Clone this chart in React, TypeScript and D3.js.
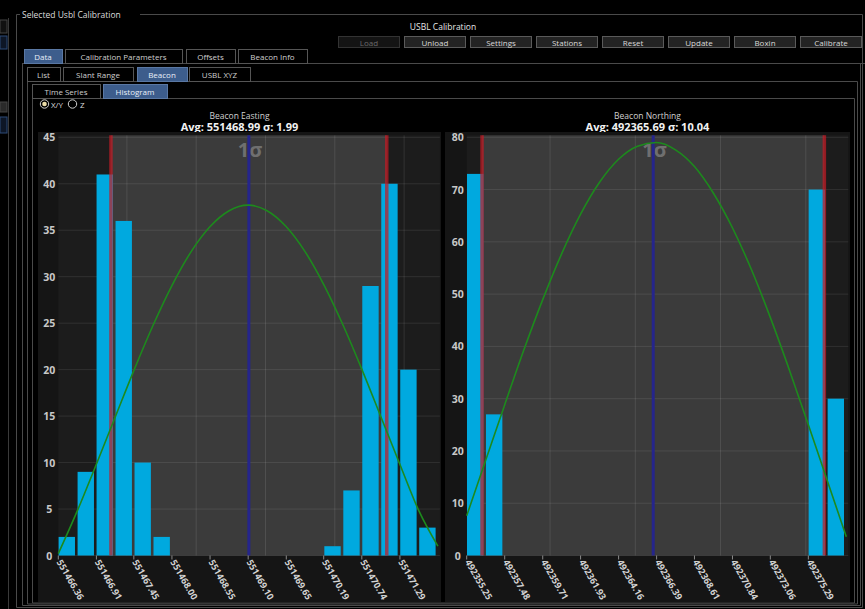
import React from 'react';
import * as d3 from 'd3';

// Histogram bin counts (20 bins each)
const eastingCounts = [2, 9, 41, 36, 10, 2, 0, 0, 0, 0, 0, 0, 0, 0, 1, 7, 29, 40, 20, 3];
const northingCounts = [73, 27, 0, 0, 0, 0, 0, 0, 0, 0, 0, 0, 0, 0, 0, 0, 0, 0, 70, 30];

// Bin layout
const eastingBinStart = 551466.36;
const eastingBinWidth = 0.27389;
const northingBinStart = 492355.25;
const northingBinWidth = 1.11333;

// Axis tick labels (every second bin edge)
const eastingTickLabels = [
  '551466.36', '551466.91', '551467.45', '551468.00', '551468.55',
  '551469.10', '551469.65', '551470.19', '551470.74', '551471.29',
];
const northingTickLabels = [
  '492355.25', '492357.48', '492359.71', '492361.93', '492364.16',
  '492366.39', '492368.61', '492370.84', '492373.06', '492375.29',
];

// Normal fit curve, sampled at the 21 bin edges
const eastingFit = [0.2, 4.8, 9.8, 14.9, 20.0, 24.8, 29.1, 32.7, 35.4, 37.1, 37.7, 37.1, 35.4, 32.7, 29.1, 24.8, 20.0, 14.9, 9.8, 4.8, 1.0];
const northingFit = [7.6, 18.2, 28.8, 39.2, 48.9, 57.7, 65.3, 71.4, 75.8, 78.3, 79.0, 77.6, 74.4, 69.3, 62.7, 54.7, 45.5, 35.5, 25.0, 14.3, 3.6];

// Vertical grid positions
const eastingGrid = [551467.35, 551468.35, 551469.35, 551470.35, 551471.35];
const northingGrid = [492360.14, 492365.14, 492370.14, 492375.14];

// Count axis ticks
const eastingYTicks = [0, 5, 10, 15, 20, 25, 30, 35, 40, 45];
const northingYTicks = [0, 10, 20, 30, 40, 50, 60, 70, 80];

// Statistics
const eastingAvg = 551468.99;
const eastingSigma = 1.99;
const eastingCentre = 551469.11;
const northingAvg = 492365.69;
const northingSigma = 10.04;
const northingCentre = 492366.19;

// UI labels
const buttonLabels = ['Load', 'Unload', 'Settings', 'Stations', 'Reset', 'Update', 'Boxin', 'Calibrate'];
const mainTabs = ['Data', 'Calibration Parameters', 'Offsets', 'Beacon Info'];
const dataTabs = ['List', 'Slant Range', 'Beacon', 'USBL XYZ'];
const viewTabs = ['Time Series', 'Histogram'];

const W = 865;
const H = 609;
const FONT = "'Open Sans', 'Noto Sans', sans-serif";
const PLOT_TOP = 137.3;
const PLOT_BOTTOM = 555.5;
const PLOT_W = 379.6;

type PanelProps = {
  panelX: number;
  panelW: number;
  plotLeft: number;
  title: string;
  avg: number;
  sigma: number;
  centre: number;
  counts: number[];
  binStart: number;
  binWidth: number;
  tickLabels: string[];
  fit: number[];
  grid: number[];
  yTicks: number[];
};

function HistogramPanel(p: PanelProps) {
  const nBins = p.counts.length;
  const x = d3
    .scaleLinear()
    .domain([p.binStart, p.binStart + nBins * p.binWidth])
    .range([p.plotLeft, p.plotLeft + PLOT_W]);
  const yMax = p.yTicks[p.yTicks.length - 1];
  const y = d3.scaleLinear().domain([0, yMax]).range([PLOT_BOTTOM, PLOT_TOP]);
  const edges = d3.range(nBins + 1).map((k) => p.binStart + k * p.binWidth);
  const line = d3
    .line<number>()
    .x((_, i) => x(edges[i]))
    .y((v) => y(v))
    .curve(d3.curveMonotoneX);
  const bgRight = p.plotLeft + PLOT_W + 2;
  const bandL = x(p.centre - p.sigma);
  const bandR = x(p.centre + p.sigma);
  const cx = p.panelX + p.panelW / 2;
  return (
    <g>
      <text x={cx} y={115} textAnchor="middle" dominantBaseline="central" fill="#d0d0d0" fontSize={8.5} fontFamily={FONT}>
        {p.title}
      </text>
      <text x={cx} y={126.5} textAnchor="middle" dominantBaseline="central" fill="#f2f2f2" fontSize={11} fontWeight={700} fontFamily={FONT}>
        {`Avg: ${p.avg.toFixed(2)} σ: ${p.sigma.toFixed(2)}`}
      </text>
      <rect x={p.panelX} y={132} width={p.panelW} height={470} fill="#151515" />
      <rect x={p.plotLeft} y={PLOT_TOP - 2} width={bgRight - p.plotLeft} height={PLOT_BOTTOM - PLOT_TOP + 2} fill="#1c1c1c" />
      <rect x={bandL} y={PLOT_TOP - 2} width={bandR - bandL} height={PLOT_BOTTOM - PLOT_TOP + 2} fill="#3b3b3b" />
      {p.yTicks.map((t) => (
        <line key={'h' + t} x1={p.plotLeft} x2={bgRight} y1={y(t)} y2={y(t)} stroke="#ffffff" strokeOpacity={0.09} strokeWidth={1} />
      ))}
      {p.grid.map((g) => (
        <line key={'v' + g} x1={x(g)} x2={x(g)} y1={PLOT_TOP - 2} y2={PLOT_BOTTOM} stroke="#ffffff" strokeOpacity={0.1} strokeWidth={1} />
      ))}
      <text x={x(p.centre) - 11} y={157} fill="#6f6f6f" fontSize={20} fontWeight={700} fontFamily={FONT}>
        1σ
      </text>
      {p.counts.map((c, i) =>
        c > 0 ? (
          <rect
            key={'b' + i}
            x={x(edges[i]) + 0.3}
            y={y(c)}
            width={x(edges[i + 1]) - x(edges[i]) - 2.6}
            height={PLOT_BOTTOM - y(c)}
            fill="#00a9df"
          />
        ) : null
      )}
      {[p.centre - p.sigma, p.centre + p.sigma].map((v, i) => (
        <line key={'s' + i} x1={x(v)} x2={x(v)} y1={PLOT_TOP - 2} y2={PLOT_BOTTOM} stroke="#c21c26" strokeOpacity={0.72} strokeWidth={3.5} />
      ))}
      <line x1={x(p.centre)} x2={x(p.centre)} y1={PLOT_TOP - 2} y2={PLOT_BOTTOM} stroke="#25258c" strokeWidth={3} />
      <path d={line(p.fit) || ''} fill="none" stroke="#1d8a1d" strokeWidth={1.6} />
      {p.yTicks.map((t) => (
        <text key={'yl' + t} x={p.plotLeft - 9} y={y(t)} textAnchor="middle" dominantBaseline="central" fill="#c8c8c8" fontSize={10.5} fontWeight={700} fontFamily={FONT}>
          {t}
        </text>
      ))}
      {p.tickLabels.map((lab) => {
        const tx = x(parseFloat(lab));
        return (
          <g key={'xl' + lab}>
            <line x1={tx} x2={tx} y1={PLOT_BOTTOM} y2={PLOT_BOTTOM + 4} stroke="#8a8a8a" strokeWidth={1} />
            <text
              transform={`translate(${tx + 5},${PLOT_BOTTOM + 2.5}) rotate(60)`}
              dominantBaseline="hanging"
              fill="#d2d2d2"
              fontSize={9.2}
              fontWeight={700}
              fontFamily={FONT}
            >
              {lab}
            </text>
          </g>
        );
      })}
    </g>
  );
}

const mainTabX = [[24, 62], [65, 182], [186, 235], [238, 307]];
const dataTabX = [[27, 60], [63, 133], [137, 187], [189, 250]];
const viewTabX = [[32, 100], [103, 167]];

function Tab({ x0, x1, y0, y1, label, selected }: { x0: number; x1: number; y0: number; y1: number; label: string; selected: boolean }) {
  return (
    <g>
      <rect x={x0 + 0.5} y={y0 + 0.5} width={x1 - x0} height={y1 - y0} fill={selected ? '#3d5d8c' : '#000'} stroke={selected ? '#5a78a4' : '#555'} strokeWidth={1} />
      <text x={(x0 + x1) / 2} y={(y0 + y1) / 2 + 0.5} textAnchor="middle" dominantBaseline="central" fill={selected ? '#e8eef8' : '#cfcfcf'} fontSize={8} fontFamily={FONT}>
        {label}
      </text>
    </g>
  );
}

export default function App() {
  const line = '#4a4a4a';
  return (
    <div style={{ position: 'absolute', left: 0, top: 0, width: W, height: H }}>
      <svg width={W} height={H} viewBox={`0 0 ${W} ${H}`} style={{ display: 'block', background: '#000' }}>
        <rect x={0} y={0} width={W} height={H} fill="#000" />
        {/* side strip */}
        <line x1={8.5} x2={8.5} y1={18} y2={H} stroke="#3a3a3a" />
        <rect x={0} y={20} width={7} height={13} fill="#111" stroke="#444" />
        <rect x={0} y={36} width={7} height={13} fill="#0d1626" stroke="#2d4a78" />
        <rect x={0} y={102} width={7} height={10} fill="#2a2a2a" stroke="#444" />
        <rect x={0} y={117} width={7} height={16} fill="#0d1626" stroke="#2d4a78" />

        {/* group box */}
        <path d={`M20,14.5 H16.5 V607.5 H862.5 V14.5 H140`} fill="none" stroke={line} />
        <text x={22} y={14.5} dominantBaseline="central" fill="#dcdcdc" fontSize={8.5} fontFamily={FONT}>
          Selected Usbl Calibration
        </text>
        <text x={443} y={26.5} textAnchor="middle" dominantBaseline="central" fill="#e6e6e6" fontSize={8.5} fontFamily={FONT}>
          USBL Calibration
        </text>

        {/* command buttons */}
        {buttonLabels.map((b, i) => {
          const bx = 338 + i * 66;
          const disabled = i === 0;
          return (
            <g key={b}>
              <rect x={bx + 0.5} y={36.5} width={61} height={11} fill={disabled ? '#141414' : '#232323'} stroke={disabled ? '#333' : '#5a5a5a'} />
              <text x={bx + 31} y={42.5} textAnchor="middle" dominantBaseline="central" fill={disabled ? '#6a6a6a' : '#dadada'} fontSize={8} fontFamily={FONT}>
                {b}
              </text>
            </g>
          );
        })}

        {/* tab frames */}
        <path d={`M22.5,63.5 V605.5 H860.5 V63.5 H${W}`} fill="none" stroke={line} />
        <line x1={22} x2={W} y1={63.5} y2={63.5} stroke={line} />
        <path d={`M27.5,81.5 V604 H857.5 V81.5 Z`} fill="none" stroke={line} />
        <path d={`M32.5,98.5 V603 H854.5 V98.5 Z`} fill="none" stroke={line} />

        {mainTabs.map((t, i) => (
          <Tab key={t} x0={mainTabX[i][0]} x1={mainTabX[i][1]} y0={49} y1={63} label={t} selected={i === 0} />
        ))}
        {dataTabs.map((t, i) => (
          <Tab key={t} x0={dataTabX[i][0]} x1={dataTabX[i][1]} y0={67} y1={81} label={t} selected={i === 2} />
        ))}
        {viewTabs.map((t, i) => (
          <Tab key={t} x0={viewTabX[i][0]} x1={viewTabX[i][1]} y0={84} y1={98} label={t} selected={i === 1} />
        ))}

        {/* X/Y and Z selector */}
        <circle cx={44.5} cy={104} r={4.2} fill="none" stroke="#d0d0d0" strokeWidth={1} />
        <circle cx={44.5} cy={104} r={2.3} fill="#eadca8" />
        <text x={51} y={104.5} dominantBaseline="central" fill="#dcdcdc" fontSize={8} fontFamily={FONT}>
          X/Y
        </text>
        <circle cx={72.5} cy={104} r={4.2} fill="none" stroke="#d0d0d0" strokeWidth={1} />
        <text x={80} y={104.5} dominantBaseline="central" fill="#dcdcdc" fontSize={8} fontFamily={FONT}>
          Z
        </text>

        <HistogramPanel
          panelX={38}
          panelW={403}
          plotLeft={58.3}
          title="Beacon Easting"
          avg={eastingAvg}
          sigma={eastingSigma}
          centre={eastingCentre}
          counts={eastingCounts}
          binStart={eastingBinStart}
          binWidth={eastingBinWidth}
          tickLabels={eastingTickLabels}
          fit={eastingFit}
          grid={eastingGrid}
          yTicks={eastingYTicks}
        />
        <HistogramPanel
          panelX={445}
          panelW={405}
          plotLeft={466.7}
          title="Beacon Northing"
          avg={northingAvg}
          sigma={northingSigma}
          centre={northingCentre}
          counts={northingCounts}
          binStart={northingBinStart}
          binWidth={northingBinWidth}
          tickLabels={northingTickLabels}
          fit={northingFit}
          grid={northingGrid}
          yTicks={northingYTicks}
        />
      </svg>
    </div>
  );
}
